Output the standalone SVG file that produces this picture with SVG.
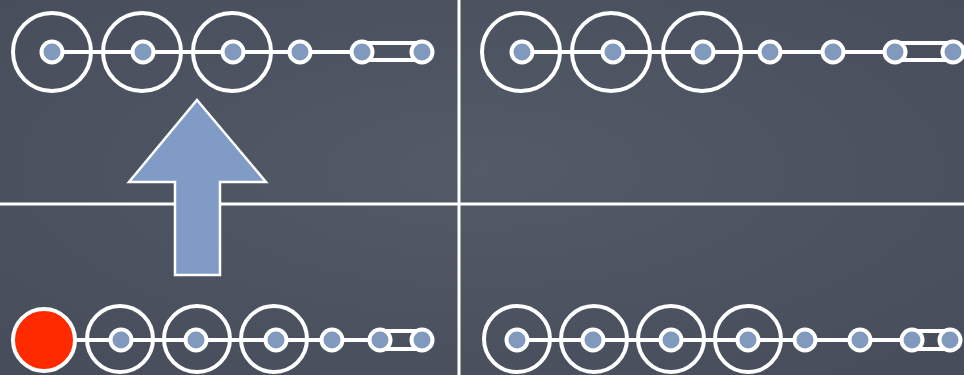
<svg xmlns="http://www.w3.org/2000/svg" width="964" height="375" viewBox="0 0 964 375">
<defs>
<style>
.ring{fill:none;stroke:#fff;stroke-width:4}
.dot{fill:#8199bd;stroke:#fff;stroke-width:4}
.ln{stroke:#fff;stroke-width:4;fill:none}
.div{stroke:#fff;stroke-width:3}
</style>
<radialGradient id="bg" cx="0.5" cy="0.45" r="0.75">
<stop offset="0" stop-color="#535a68"/>
<stop offset="1" stop-color="#464c59"/>
</radialGradient>
</defs>
<rect width="964" height="375" fill="url(#bg)"/>
<g id="dividers">
<line class="div" x1="0" y1="204" x2="964" y2="204"/>
<line class="div" x1="459" y1="0" x2="459" y2="375"/>
</g>
<g id="connectors">
<line class="ln" x1="52" y1="52" x2="362" y2="52"/>
<rect class="ln" x="362" y="43" width="60" height="17"/>
<line class="ln" x1="522" y1="52" x2="895" y2="52"/>
<rect class="ln" x="895" y="43" width="58" height="17"/>
<line class="ln" x1="44" y1="340" x2="380" y2="340"/>
<rect class="ln" x="380" y="331" width="43" height="18"/>
<line class="ln" x1="517" y1="340" x2="912" y2="340"/>
<rect class="ln" x="912" y="331" width="38" height="18"/>
</g>
<g id="top-left">
<circle class="ring" cx="52" cy="52" r="39"/>
<circle class="ring" cx="142" cy="52" r="39"/>
<circle class="ring" cx="232" cy="52" r="39"/>
<circle class="dot" cx="52" cy="52" r="10.5"/>
<circle class="dot" cx="143" cy="52" r="10.5"/>
<circle class="dot" cx="233" cy="52" r="10.5"/>
<circle class="dot" cx="300" cy="52" r="10.5"/>
<circle class="dot" cx="362" cy="52" r="10.5"/>
<circle class="dot" cx="422" cy="52" r="10.5"/>
</g>
<g id="top-right">
<circle class="ring" cx="521" cy="52" r="39"/>
<circle class="ring" cx="611" cy="52" r="39"/>
<circle class="ring" cx="702" cy="52" r="39"/>
<circle class="dot" cx="522" cy="52" r="10.5"/>
<circle class="dot" cx="613" cy="52" r="10.5"/>
<circle class="dot" cx="703" cy="52" r="10.5"/>
<circle class="dot" cx="770" cy="52" r="10.5"/>
<circle class="dot" cx="833" cy="52" r="10.5"/>
<circle class="dot" cx="895" cy="52" r="10.5"/>
<circle class="dot" cx="953" cy="52" r="10.5"/>
</g>
<g id="bottom-left">
<circle cx="44" cy="340" r="31" fill="#ff2a00" stroke="#fff" stroke-width="4"/>
<circle class="ring" cx="120" cy="339" r="33"/>
<circle class="ring" cx="197" cy="339" r="33"/>
<circle class="ring" cx="274" cy="339" r="33"/>
<circle class="dot" cx="121" cy="340" r="10.5"/>
<circle class="dot" cx="196" cy="340" r="10.5"/>
<circle class="dot" cx="276" cy="340" r="10.5"/>
<circle class="dot" cx="332" cy="340" r="10.5"/>
<circle class="dot" cx="380" cy="340" r="10.5"/>
<circle class="dot" cx="422" cy="340" r="10.5"/>
</g>
<g id="bottom-right">
<circle class="ring" cx="517" cy="339" r="33"/>
<circle class="ring" cx="594" cy="339" r="33"/>
<circle class="ring" cx="671" cy="339" r="33"/>
<circle class="ring" cx="748" cy="339" r="33"/>
<circle class="dot" cx="517" cy="340" r="10.5"/>
<circle class="dot" cx="593" cy="340" r="10.5"/>
<circle class="dot" cx="671" cy="340" r="10.5"/>
<circle class="dot" cx="748" cy="340" r="10.5"/>
<circle class="dot" cx="805" cy="340" r="10.5"/>
<circle class="dot" cx="860" cy="340" r="10.5"/>
<circle class="dot" cx="912" cy="340" r="10.5"/>
<circle class="dot" cx="950" cy="340" r="10.5"/>
</g>
<g id="arrow">
<polygon points="197,100 266,182 220,182 220,275 175,275 175,182 129,182" fill="#7f9bc6" stroke="#fff" stroke-width="2.5" stroke-linejoin="miter"/>
</g>
</svg>
